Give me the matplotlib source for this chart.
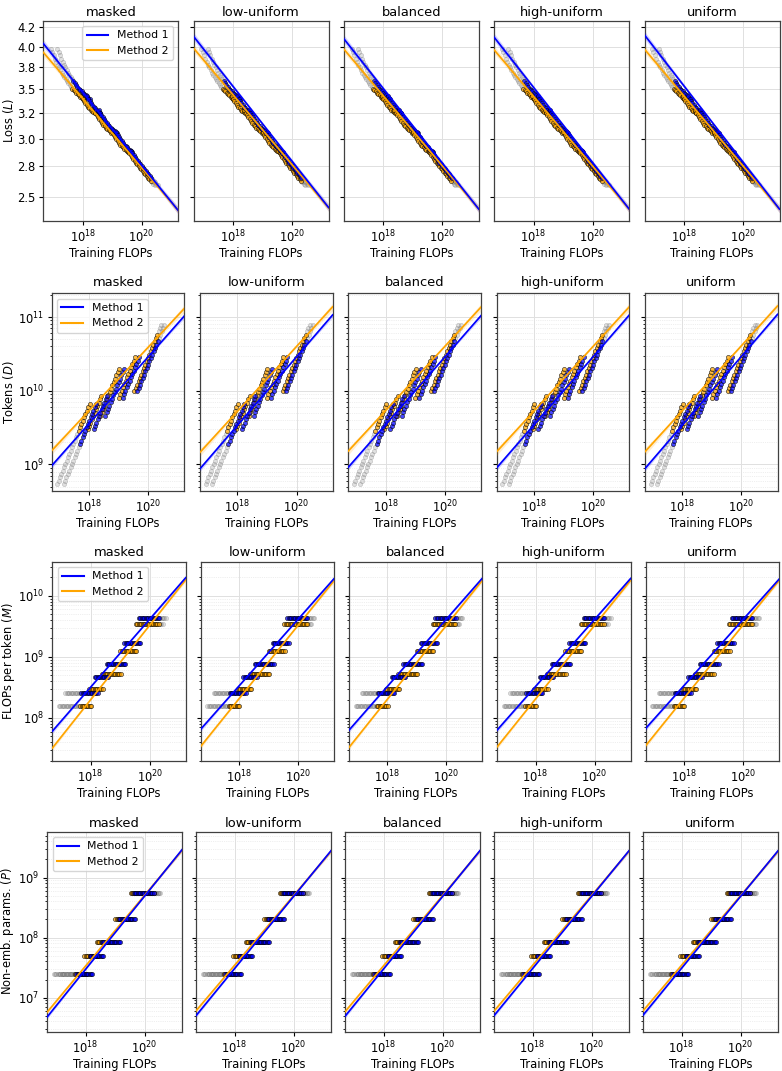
import numpy as np
import matplotlib
matplotlib.use("Agg")
import matplotlib.pyplot as plt
from matplotlib.lines import Line2D
from matplotlib.ticker import FixedLocator, FixedFormatter, NullLocator, LogLocator

plt.rcParams['font.family'] = ['DejaVu Sans']

# ---------------- data ----------------
variants = ['masked', 'low-uniform', 'balanced', 'high-uniform', 'uniform']
method_names = ['Method 1', 'Method 2']
method_colors = ['blue', 'orange']

model_params = [2.5e7, 4.9e7, 8.5e7, 2.0e8, 5.6e8]
flops_per_token_m1 = [2.57e8, 4.7e8, 7.6e8, 1.7e9, 4.4e9]
flops_per_token_m2 = [1.55e8, 3.0e8, 5.2e8, 1.25e9, 3.5e9]

tokens_model1 = [5.40e8, 5.99e8, 6.65e8, 7.38e8, 8.20e8, 9.10e8, 1.010e9, 1.121e9, 1.245e9,
                 1.382e9, 1.535e9, 1.704e9, 1.892e9, 2.100e9, 2.332e9, 2.589e9, 2.874e9,
                 3.191e9, 3.542e9, 3.933e9, 4.366e9, 4.847e9, 5.381e9, 5.974e9, 6.632e9]
loss_model1 = [3.978, 3.935, 3.892, 3.854, 3.816, 3.782, 3.749, 3.719, 3.690, 3.664, 3.638,
               3.613, 3.591, 3.568, 3.547, 3.527, 3.509, 3.492, 3.477, 3.462, 3.448, 3.435,
               3.422, 3.411, 3.401]
tokens_model2 = [3.00e9, 3.33e9, 3.70e9, 4.10e9, 4.55e9, 5.06e9, 5.61e9, 6.23e9, 6.92e9,
                 7.68e9, 8.53e9]
loss_model2 = [3.425, 3.398, 3.374, 3.352, 3.332, 3.313, 3.298, 3.284, 3.271, 3.260, 3.251]
tokens_model3 = [4.60e9, 5.11e9, 5.67e9, 6.30e9, 6.99e9, 7.76e9, 8.62e9, 9.57e9, 1.062e10,
                 1.179e10, 1.309e10, 1.453e10, 1.613e10, 1.791e10, 1.988e10]
loss_model3 = [3.278, 3.254, 3.231, 3.209, 3.189, 3.170, 3.152, 3.135, 3.119, 3.105, 3.091,
               3.079, 3.068, 3.058, 3.049]
tokens_model4 = [8.09e9, 8.98e9, 9.97e9, 1.107e10, 1.229e10, 1.365e10, 1.515e10, 1.682e10,
                 1.867e10, 2.073e10, 2.302e10, 2.555e10, 2.837e10]
loss_model4 = [3.061, 3.038, 3.017, 2.996, 2.977, 2.960, 2.944, 2.930, 2.918, 2.907, 2.896,
               2.887, 2.878]
tokens_model5 = [9.77e9, 1.085e10, 1.204e10, 1.337e10, 1.484e10, 1.648e10, 1.830e10, 2.031e10,
                 2.255e10, 2.504e10, 2.780e10, 3.086e10, 3.426e10, 3.804e10, 4.223e10, 4.688e10,
                 5.205e10, 5.778e10, 6.415e10, 7.122e10, 7.907e10]
loss_model5 = [2.890, 2.870, 2.851, 2.833, 2.815, 2.799, 2.783, 2.768, 2.754, 2.740, 2.725,
               2.711, 2.697, 2.683, 2.669, 2.656, 2.643, 2.631, 2.618, 2.606, 2.594]

# runs inside this training-compute window are used for the fits (others grey)
fit_compute_window = [4.4e17, 2.1e20]

# power-law fits: value at C = 1e19 and exponent, one entry per variant
loss_fit_m1_at_1e19 = [3.094, 3.143, 3.123, 3.131, 3.142]
loss_fit_m1_exponent = [-0.0496, -0.0508, -0.0506, -0.0510, -0.0517]
loss_fit_m2_at_1e19 = [3.052, 3.085, 3.074, 3.070, 3.074]
loss_fit_m2_exponent = [-0.0470, -0.0474, -0.0475, -0.0473, -0.0475]
tokens_fit_m1_at_1e19 = [1.02e10, 0.99e10, 1.00e10, 1.00e10, 1.00e10]
tokens_fit_m1_exponent = [0.4527, 0.465, 0.458, 0.462, 0.4665]
tokens_fit_m2_at_1e19 = [1.45e10, 1.45e10, 1.47e10, 1.46e10, 1.48e10]
tokens_fit_m2_exponent = [0.430, 0.440, 0.435, 0.438, 0.4408]
fpt_fit_m1_at_1e19 = [1.15e9, 1.17e9, 1.16e9, 1.16e9, 1.17e9]
fpt_fit_m1_exponent = [0.5555, 0.545, 0.550, 0.548, 0.540]
fpt_fit_m2_at_1e19 = [8.1e8, 8.2e8, 8.1e8, 8.2e8, 8.3e8]
fpt_fit_m2_exponent = [0.609, 0.600, 0.605, 0.602, 0.598]
params_fit_m1_at_1e19 = [1.20e8, 1.21e8, 1.20e8, 1.21e8, 1.22e8]
params_fit_m1_exponent = [0.609, 0.600, 0.603, 0.600, 0.598]
params_fit_m2_at_1e19 = [1.30e8, 1.31e8, 1.30e8, 1.31e8, 1.31e8]
params_fit_m2_exponent = [0.589, 0.580, 0.585, 0.582, 0.580]

row_ylabels = ['Loss ($L$)', 'Tokens ($D$)', 'FLOPs per token ($M$)', 'Non-emb. params. ($P$)']
loss_ticks = [2.5, 2.75, 3.0, 3.25, 3.5, 3.75, 4.0, 4.25]
loss_tick_labels = ['2.5', '2.8', '3.0', '3.2', '3.5', '3.8', '4.0', '4.2']
x_ticks = [1e18, 1e20]

# ---------------- layout / style ----------------
W, H = 782, 1071
fig = plt.figure(figsize=(W / 100, H / 100), dpi=100)

# left px of first column, width px, column pitch px, top px, bottom px
row_layout = [
    (43.3, 135.0, 150.3, 20.7, 220.7),
    (51.7, 132.6, 148.3, 293.3, 490.7),
    (52.3, 133.4, 148.3, 561.7, 760.7),
    (47.2, 135.0, 149.0, 831.7, 1031.7),
]
row_xlim = [(4.6e16, 1.75e21), (5.4e16, 1.66e21), (5.0e16, 1.66e21), (5.0e16, 1.9e21)]
row_ylim = [(2.32, 4.34), (4.4e8, 2.1e11), (2.0e7, 3.6e10), (2.7e6, 5.8e9)]
row_title_pad = [3.4, 5.0, 4.1, 3.4]
# band half-width (log10) = b0 + b1 * (log10 C - 19)^2, per row, per method
band = [[(0.002, 0.0006), (0.002, 0.0006)],
        [(0.004, 0.006), (0.006, 0.009)],
        [(0.004, 0.006), (0.004, 0.006)],
        [(0.004, 0.005), (0.004, 0.005)]]

tokens_by_model = [tokens_model1, tokens_model2, tokens_model3, tokens_model4, tokens_model5]
loss_by_model = [loss_model1, loss_model2, loss_model3, loss_model4, loss_model5]
fpt = [flops_per_token_m1, flops_per_token_m2]
fits = [
    [(loss_fit_m1_at_1e19, loss_fit_m1_exponent), (loss_fit_m2_at_1e19, loss_fit_m2_exponent)],
    [(tokens_fit_m1_at_1e19, tokens_fit_m1_exponent), (tokens_fit_m2_at_1e19, tokens_fit_m2_exponent)],
    [(fpt_fit_m1_at_1e19, fpt_fit_m1_exponent), (fpt_fit_m2_at_1e19, fpt_fit_m2_exponent)],
    [(params_fit_m1_at_1e19, params_fit_m1_exponent), (params_fit_m2_at_1e19, params_fit_m2_exponent)],
]

TICK_FS = 8.3
LABEL_FS = 8.3
TITLE_FS = 9.4
LEGEND_FS = 7.8
YLABEL_RIGHT_PX = 16.5

for r in range(4):
    left0, width, pitch, top, bottom = row_layout[r]
    for c in range(5):
        left = left0 + c * pitch
        ax = fig.add_axes([left / W, 1 - bottom / H, width / W, (bottom - top) / H])
        ax.set_xscale('log')
        ax.set_yscale('log')

        # scatter of runs
        for mi in (1, 0):
            for g in range(5):
                D = np.array(tokens_by_model[g])
                C = fpt[mi][g] * D
                if r == 0:
                    y = np.array(loss_by_model[g])
                elif r == 1:
                    y = D
                elif r == 2:
                    y = np.full_like(D, fpt[mi][g])
                else:
                    y = np.full_like(D, model_params[g])
                inside = (C >= fit_compute_window[0]) & (C <= fit_compute_window[1])
                ax.scatter(C[~inside], y[~inside], s=9, facecolors='0.6', edgecolors='0.35',
                           linewidths=0.5, alpha=0.3, zorder=2)
                ax.scatter(C[inside], y[inside], s=9, facecolors=method_colors[mi],
                           edgecolors='black', linewidths=0.5, alpha=0.72, zorder=3)

        # fit lines + bands
        xlo, xhi = row_xlim[r]
        cg = np.logspace(np.log10(xlo), np.log10(xhi), 200)
        for mi in (1, 0):
            y19 = fits[r][mi][0][c]
            a = fits[r][mi][1][c]
            yy = y19 * (cg / 1e19) ** a
            b0, b1 = band[r][mi]
            hw = b0 + b1 * (np.log10(cg) - 19) ** 2
            ax.fill_between(cg, yy / 10 ** hw, yy * 10 ** hw, color=method_colors[mi],
                            alpha=0.18, lw=0, zorder=4)
            ax.plot(cg, yy, color=method_colors[mi], lw=1.25, zorder=5)

        ax.set_xlim(xlo, xhi)
        ax.set_ylim(*row_ylim[r])
        ax.xaxis.set_major_locator(FixedLocator(x_ticks))
        ax.xaxis.set_minor_locator(NullLocator())
        if r == 0:
            ax.yaxis.set_major_locator(FixedLocator(loss_ticks))
            ax.yaxis.set_major_formatter(FixedFormatter(loss_tick_labels))
            ax.yaxis.set_minor_locator(NullLocator())
        else:
            ax.yaxis.set_major_locator(LogLocator(base=10, numticks=20))
            ax.yaxis.set_minor_locator(LogLocator(base=10, subs=np.arange(2, 10), numticks=20))

        ax.set_axisbelow(True)
        ax.grid(True, which='major', color='0.88', lw=0.7)
        if r > 0:
            ax.grid(True, which='minor', axis='y', color='0.88', lw=0.5, ls=':')

        ax.tick_params(which='major', labelsize=TICK_FS, length=3, width=0.8, pad=2.6)
        ax.tick_params(which='minor', length=1.8, width=0.6)
        for sp in ax.spines.values():
            sp.set_color('0.25')
            sp.set_linewidth(0.9)

        ax.set_title(variants[c], fontsize=TITLE_FS, pad=row_title_pad[r])
        ax.set_xlabel('Training FLOPs', fontsize=LABEL_FS, labelpad=1.5)
        if c == 0:
            ax.set_ylabel(row_ylabels[r], fontsize=LABEL_FS)
            ax.yaxis.set_label_coords((YLABEL_RIGHT_PX - left) / width, 0.5)
            handles = [Line2D([], [], color=method_colors[0], lw=1.5),
                       Line2D([], [], color=method_colors[1], lw=1.5)]
            ax.legend(handles, method_names, loc='upper right' if r == 0 else 'upper left',
                      fontsize=LEGEND_FS)
        else:
            ax.tick_params(labelleft=False)

fig.savefig('out.png', dpi=100)
